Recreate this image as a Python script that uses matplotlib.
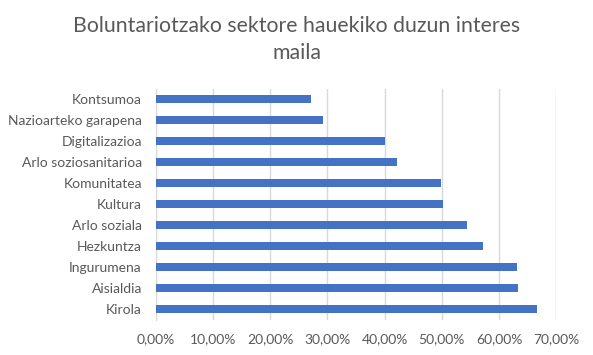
import matplotlib.pyplot as plt
from matplotlib.ticker import FuncFormatter

# Data (bottom to top, as drawn)
categories = ['Kirola', 'Aisialdia', 'Ingurumena', 'Hezkuntza', 'Arlo soziala',
              'Kultura', 'Komunitatea', 'Arlo soziosanitarioa', 'Digitalizazioa',
              'Nazioarteko garapena', 'Kontsumoa']
values = [66.7, 63.3, 63.2, 57.2, 54.4, 50.2, 49.9, 42.2, 40.1, 29.25, 27.1]
x_ticks = [0, 10, 20, 30, 40, 50, 60, 70]

text_color = '#595959'
bar_color = '#4472C4'
grid_color = '#D9D9D9'

plt.rcParams['font.family'] = ['Lato', 'DejaVu Sans']

fig = plt.figure(figsize=(5.93, 3.55), dpi=100)
ax = fig.add_axes([0.2626, 0.100, 0.6755, 0.6507])

ax.barh(range(len(categories)), values, height=0.38, color=bar_color, zorder=3)

ax.set_xlim(0, 70)
ax.set_ylim(-0.5, len(categories) - 0.5)
ax.set_xticks(x_ticks)
ax.xaxis.set_major_formatter(FuncFormatter(lambda v, p: f'{v:.2f}%'.replace('.', ',')))
ax.set_yticks(range(len(categories)))
ax.set_yticklabels(categories)

ax.grid(axis='x', color=grid_color, linewidth=1, zorder=0)
for side in ['top', 'right', 'bottom']:
    ax.spines[side].set_visible(False)
ax.spines['left'].set_color(grid_color)
ax.tick_params(axis='x', length=0, pad=10, labelsize=10, labelcolor=text_color)
ax.tick_params(axis='y', length=0, pad=10, labelsize=10, labelcolor=text_color)

fig.text(0.5, 0.888, 'Boluntariotzako sektore hauekiko duzun interes\nmaila',
         ha='center', va='center', fontsize=15.3, color=text_color, linespacing=1.45)

fig.savefig('out.png', dpi=100, facecolor='white')
